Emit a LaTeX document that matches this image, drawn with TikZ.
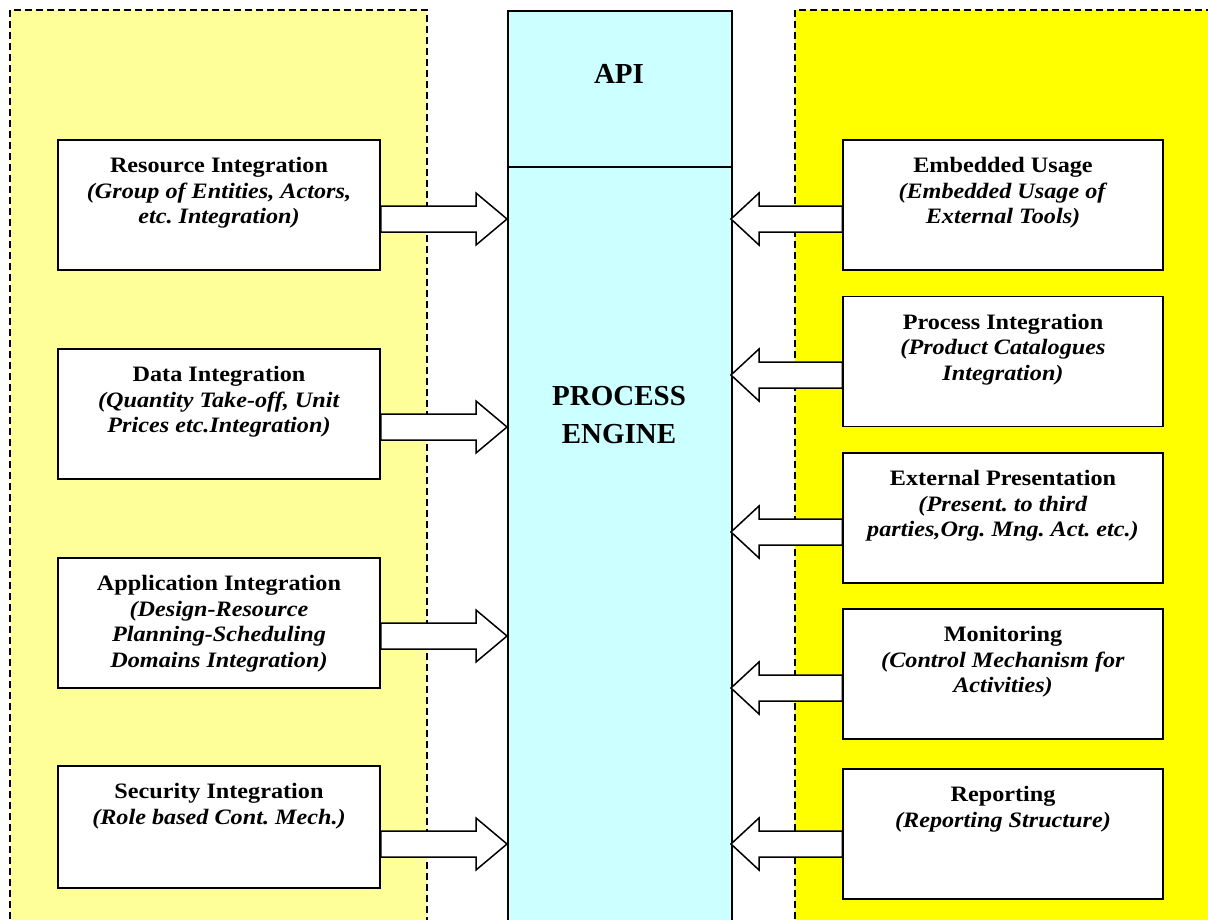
\documentclass[tikz,border=0pt]{standalone}
\usepackage{fontspec}
\setmainfont{Liberation Serif}
\newfontfamily\boxfont[FakeStretch=1.1]{Liberation Serif}
\usetikzlibrary{calc}
\frenchspacing
\definecolor{paleyellow}{HTML}{FFFF99}
\definecolor{brightyellow}{HTML}{FFFF00}
\definecolor{palecyan}{HTML}{CCFFFF}
\tikzset{
  panelborder/.style={line width=1.5pt, dash pattern=on 7pt off 4pt},
  compbox/.style={draw, line width=1.5pt, fill=white, minimum width=322pt, minimum height=130pt, inner sep=0pt},
  rcompbox/.style={compbox, minimum width=320pt},
  boxtext/.style={anchor=north, inner sep=0pt, align=center, font=\boxfont\fontsize{22}{25.5}\selectfont\bfseries\frenchspacing},
  bigtext/.style={inner sep=0pt, align=center, font=\fontsize{29}{38}\selectfont\bfseries},
  blockarrow/.style={draw, line width=1.5pt, fill=white, line join=miter},
}
% #1 start node/coordinate (box side), #2 tip coordinate, #3 signed head length
\newcommand{\blockarr}[3]{%
  \draw[blockarrow] let \p1=(#1), \p2=(#2) in
    (\x1,{\y2+13}) -- ({\x2+(#3)},{\y2+13}) -- ({\x2+(#3)},{\y2+26}) -- (\x2,\y2)
    -- ({\x2+(#3)},{\y2-26}) -- ({\x2+(#3)},{\y2-13}) -- (\x1,{\y2-13}) -- cycle;}
\begin{document}
\begin{tikzpicture}[x=1pt,y=-1pt]
\useasboundingbox (0,0) rectangle (1208,919);
% panels
\fill[paleyellow] (10,10) rectangle (427,930);
\draw[panelborder] (10,930) -- (10,10) -- (427,10) -- (427,930);
\fill[brightyellow] (795,10) rectangle (1220,930);
\draw[panelborder] (795,930) -- (795,10) -- (1220,10);
% engine column
\node[draw, line width=1.5pt, fill=palecyan, minimum width=224pt, minimum height=156pt, inner sep=0pt, anchor=north west] (api) at (507,10) {};
\node[draw, line width=1.5pt, fill=palecyan, minimum width=224pt, minimum height=770pt, inner sep=0pt, anchor=north west] (engine) at (507,166) {};
\node[bigtext, anchor=base] (apit) at (619,83) {API};
\node[bigtext, anchor=north] (enginet) at (619,386) {PROCESS\\ENGINE};
% left boxes
\node[compbox] (res) at (219,205) {};
\node[boxtext] (rest) at ($(res.north)+(0,18)$) {Resource Integration\\\textit{(Group of Entities, Actors,}\\\textit{etc. Integration)}};
\node[compbox] (dat) at (219,414) {};
\node[boxtext] (datt) at ($(dat.north)+(0,18)$) {Data Integration\\\textit{(Quantity Take-off, Unit}\\\textit{Prices etc.Integration)}};
\node[compbox] (app) at (219,623) {};
\node[boxtext] (appt) at ($(app.north)+(0,18)$) {Application Integration\\\textit{(Design-Resource}\\\textit{Planning-Scheduling}\\\textit{Domains Integration)}};
\node[compbox, minimum height=122pt] (sec) at (219,827) {};
\node[boxtext] (sect) at ($(sec.north)+(0,18)$) {Security Integration\\\textit{(Role based Cont. Mech.)}};
% right boxes
\node[rcompbox] (emb) at (1003,205) {};
\node[boxtext] (embt) at ($(emb.north)+(0,18)$) {Embedded Usage\\\textit{(Embedded Usage of}\\\textit{External Tools)}};
\node[rcompbox] (pro) at (1003,361.5) {};
\node[boxtext] (prot) at ($(pro.north)+(0,18)$) {Process Integration\\\textit{(Product Catalogues}\\\textit{Integration)}};
\node[rcompbox] (ext) at (1003,518) {};
\node[boxtext] (extt) at ($(ext.north)+(0,18)$) {External Presentation\\\textit{(Present. to third}\\\textit{parties,Org. Mng. Act. etc.)}};
\node[rcompbox] (mon) at (1003,674) {};
\node[boxtext] (mont) at ($(mon.north)+(0,18)$) {Monitoring\\\textit{(Control Mechanism for}\\\textit{Activities)}};
\node[rcompbox] (rep) at (1003,834) {};
\node[boxtext] (rept) at ($(rep.north)+(0,18)$) {Reporting\\\textit{(Reporting Structure)}};
% arrow tips on the engine
\coordinate (tres) at (507,219);
\coordinate (tdat) at (507,427);
\coordinate (tapp) at (507,636);
\coordinate (tsec) at (507,844);
\coordinate (temb) at (731,219);
\coordinate (tpro) at (731,375);
\coordinate (text) at (731,532);
\coordinate (tmon) at (731,688);
\coordinate (trep) at (731,844);
% arrows
\blockarr{res.east}{tres}{-31}
\blockarr{dat.east}{tdat}{-31}
\blockarr{app.east}{tapp}{-31}
\blockarr{sec.east}{tsec}{-31}
\blockarr{emb.west}{temb}{28}
\blockarr{pro.west}{tpro}{28}
\blockarr{ext.west}{text}{28}
\blockarr{mon.west}{tmon}{28}
\blockarr{rep.west}{trep}{28}
\end{tikzpicture}
\end{document}
